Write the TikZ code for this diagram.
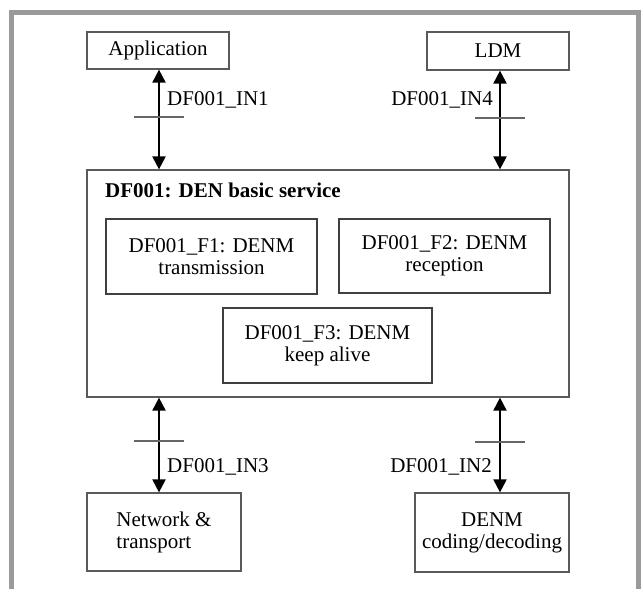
\documentclass[tikz,border=0pt]{standalone}
\usepackage{fontspec}
\setmainfont{Liberation Serif}
\usetikzlibrary{arrows.meta}
\definecolor{framegray}{HTML}{9A9A9A}
\definecolor{boxgray}{HTML}{5A5A5A}
\definecolor{funcgray}{HTML}{404040}
\definecolor{tickgray}{HTML}{666666}

\begin{document}
\begin{tikzpicture}[x=1pt,y=-1pt,
    font=\fontsize{21}{22}\selectfont,
    outerbox/.style={draw=boxgray, line width=1.2pt, inner sep=0pt, align=center},
    funcbox/.style={draw=funcgray, line width=2.2pt, inner sep=0pt, align=center},
    link/.style={{Triangle[width=13pt,length=13pt]}-{Triangle[width=13pt,length=13pt]}, line width=2pt},
    tickline/.style={draw=tickgray, line width=1.4pt},
    iflabel/.style={inner sep=2pt}]
    \useasboundingbox (0,0) rectangle (642,589);
    % frame
    \draw[framegray, line width=5pt] (11.5,589) -- (11.5,12.5) -- (638.5,12.5) -- (638.5,589);
    % outer blocks
    \node[outerbox, minimum width=142pt, minimum height=37pt] (app) at (158,50.5) {Application};
    \node[outerbox, minimum width=142pt, minimum height=38pt] (ldm) at (498,51) {LDM};
    \node[outerbox, minimum width=154pt, minimum height=78pt, align=left] (net) at (164,532) {Network \&\\transport};
    \node[outerbox, minimum width=154pt, minimum height=79pt] (cod) at (492,532.5) {DENM\\coding/decoding};
    % DEN basic service
    \node[outerbox, minimum width=482pt, minimum height=227pt] (den) at (328,283.5) {};
    \node[anchor=base west, inner sep=0pt, font=\fontsize{21}{22}\selectfont\bfseries] (dentitle) at (105,197) {DF001: DEN basic service};
    \node[funcbox, minimum width=211pt, minimum height=75pt] (f1) at (211.5,256.5) {DF001\_F1: DENM\\transmission};
    \node[funcbox, minimum width=211pt, minimum height=74pt] (f2) at (444.5,256) {DF001\_F2: DENM\\reception};
    \node[funcbox, minimum width=209pt, minimum height=75pt] (f3) at (327.5,345.5) {DF001\_F3: DENM\\keep alive};
    % interfaces
    \coordinate (lx) at (159,0);
    \coordinate (rx) at (500,0);
    \draw[link] (app.south -| lx) -- (den.north -| lx);
    \draw[link] (ldm.south -| rx) -- (den.north -| rx);
    \draw[link] (den.south -| lx) -- (net.north -| lx);
    \draw[link] (den.south -| rx) -- (cod.north -| rx);
    \draw[tickline] (134,117) -- (184,117);
    \draw[tickline] (475,118) -- (525,118);
    \draw[tickline] (134,441) -- (184,441);
    \draw[tickline] (475,442) -- (525,442);
    \node[iflabel, anchor=west] (in1) at (165,100) {DF001\_IN1};
    \node[iflabel, anchor=east] (in4) at (495,100) {DF001\_IN4};
    \node[iflabel, anchor=west] (in3) at (165,467) {DF001\_IN3};
    \node[iflabel, anchor=east] (in2) at (494,467) {DF001\_IN2};
\end{tikzpicture}
\end{document}
